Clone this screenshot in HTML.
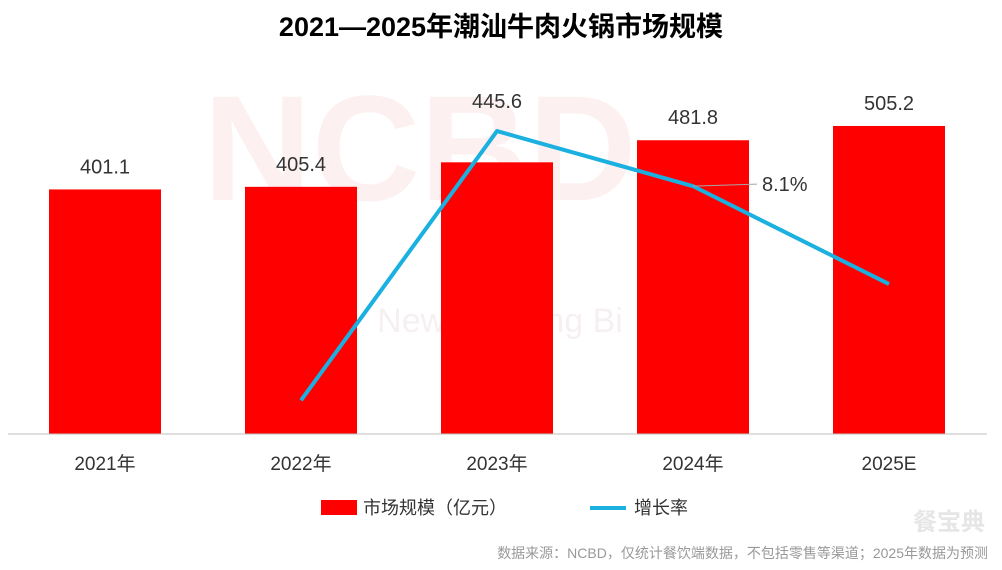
<!DOCTYPE html>
<html><head><meta charset="utf-8"><style>
body{margin:0;background:#fff;font-family:"Liberation Sans","Noto Sans CJK SC",sans-serif;}
#wrap{position:relative;width:1002px;height:570px;overflow:hidden;}
</style></head><body>
<div id="wrap">
<svg id="chart" width="1002" height="570">
<text x="501" y="36" text-anchor="middle" font-size="27" font-weight="bold" fill="#000">2021—2025年潮汕牛肉火锅市场规模</text>
<text x="420" y="200" text-anchor="middle" font-size="150" font-weight="bold" fill="#fdf0f0">NCBD</text>
<text x="500" y="332" text-anchor="middle" font-size="34" fill="#f6f0f0">New Catering Bi</text>
<g id="bars"></g>
<line x1="8" y1="434" x2="987" y2="434" stroke="#bfbfbf" stroke-width="1"/>
<g id="line"></g>
<g id="xlabels"></g>
<rect x="321" y="500" width="36" height="15" fill="#ff0000"/>
<text x="363" y="514" font-size="18" fill="#333">市场规模（亿元）</text>
<line x1="590" y1="508" x2="626" y2="508" stroke="#1ab0e0" stroke-width="4"/>
<text x="634" y="514" font-size="18" fill="#333">增长率</text>
<text x="988" y="558" text-anchor="end" font-size="14" fill="#999">数据来源：NCBD，仅统计餐饮端数据，不包括零售等渠道；2025年数据为预测</text>
<text x="985" y="530" text-anchor="end" font-size="24" font-weight="bold" fill="#e6e6e6">餐宝典</text>
</svg></div>
<script>
const categories=["2021年","2022年","2023年","2024年","2025E"];
const marketValues=[401.1,405.4,445.6,481.8,505.2];
const growthRates=[null,1.1,9.9,8.1,4.9];
const NS="http://www.w3.org/2000/svg";
const baseY=434,x0=105,step=196,bw=112;
function xPos(i){return x0+i*step;}
function yBar(v){return baseY-v*0.6097;}
function yLine(v){return baseY-v*30.6;}
function mk(t,a){const e=document.createElementNS(NS,t);for(const k in a)e.setAttribute(k,a[k]);return e;}
const gb=document.getElementById('bars'),gl=document.getElementById('line'),gx=document.getElementById('xlabels');
marketValues.forEach((v,i)=>{
 const r=mk('rect',{x:xPos(i)-bw/2,y:yBar(v),width:bw,height:baseY-yBar(v),fill:'#ff0000'});
 
 
 gb.appendChild(r);
 let ly=yBar(v)-16;
 const g=growthRates[i];
 if(g!=null&&yLine(g)<yBar(v))ly=Math.min(ly,yLine(g)-23);
 const t=mk('text',{x:xPos(i),y:ly,'text-anchor':'middle','font-size':'20',fill:'#333'});
 t.textContent=v.toFixed(1);
 
 
 gb.appendChild(t);
 const c=mk('text',{x:xPos(i),y:470,'text-anchor':'middle','font-size':'19',fill:'#333'});
 c.textContent=categories[i];
 
 
 gx.appendChild(c);
});
let pts=[];growthRates.forEach((g,i)=>{if(g!=null)pts.push(xPos(i)+','+yLine(g));});
const pl=mk('polyline',{points:pts.join(' '),fill:'none',stroke:'#1ab0e0','stroke-width':'4','stroke-linejoin':'round'});


gl.appendChild(pl);
const yi=yLine(growthRates[3]);
const ld=mk('line',{x1:xPos(3),y1:yi,x2:757,y2:yi-2,stroke:'#a6a6a6','stroke-width':'1'});


gl.appendChild(ld);
const gt=mk('text',{x:762,y:yi+5,'font-size':'20',fill:'#333'});
gt.textContent=growthRates[3].toFixed(1)+'%';


gl.appendChild(gt);
</script>
</body></html>
